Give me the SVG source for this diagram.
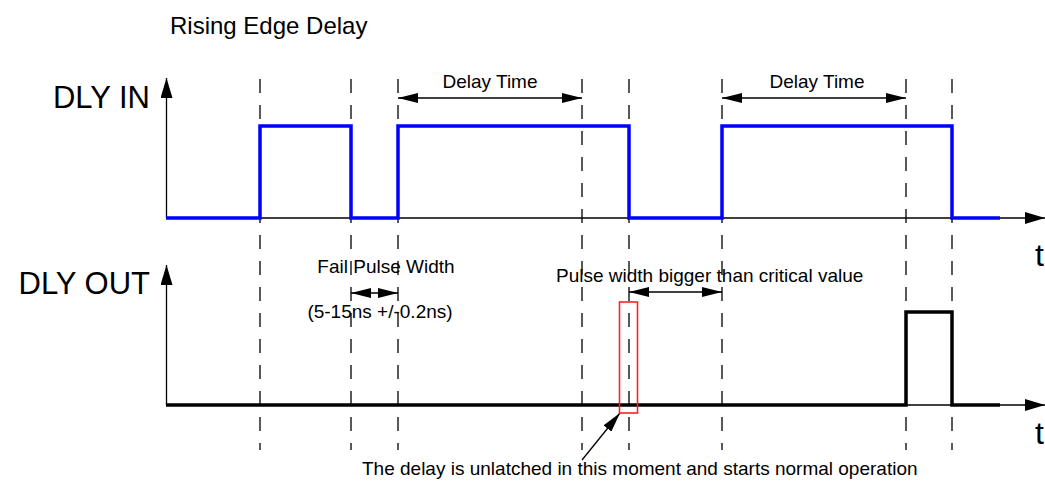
<svg xmlns="http://www.w3.org/2000/svg" width="1045" height="481" viewBox="0 0 1045 481">
<style>
text{font-family:"Liberation Sans",Arial,sans-serif;fill:#000}
.lbl{font-size:19px}
.big{font-size:31px}
.t{font-size:32px}
.dash{stroke:#000;stroke-width:1.3;stroke-dasharray:14 12;fill:none}
.thin{stroke:#000;stroke-width:1.3;fill:none}
.sigin{stroke:#0000ff;stroke-width:3.5;fill:none}
.sigout{stroke:#000;stroke-width:3.5;fill:none}
.dim{stroke:#000;stroke-width:1.3;fill:none;marker-start:url(#arr);marker-end:url(#arr)}
</style>
<defs>
<marker id="arr" markerUnits="userSpaceOnUse" markerWidth="20" markerHeight="10" refX="20" refY="5" orient="auto-start-reverse" viewBox="0 0 20 10"><path d="M0,0 L20,5 L0,10 z" fill="#000"/></marker>
<marker id="ax" markerUnits="userSpaceOnUse" markerWidth="20" markerHeight="12" refX="20" refY="6" orient="auto" viewBox="0 0 20 12"><path d="M0,0 L20,6 L0,12 z" fill="#000"/></marker>
</defs>
<rect width="1045" height="481" fill="#fff"/>
<text id="title" x="170" y="34" style="font-size:24px">Rising Edge Delay</text>
<g id="guides">
<line class="dash" x1="260" y1="79" x2="260" y2="450"/>
<line class="dash" x1="351" y1="79" x2="351" y2="450"/>
<line class="dash" x1="398" y1="79" x2="398" y2="450"/>
<line class="dash" x1="582" y1="79" x2="582" y2="450"/>
<line class="dash" x1="629" y1="79" x2="629" y2="450"/>
<line class="dash" x1="722" y1="79" x2="722" y2="450"/>
<line class="dash" x1="906" y1="79" x2="906" y2="450"/>
<line class="dash" x1="952" y1="79" x2="952" y2="450"/>
</g>
<g id="dly-in">
<text class="big" x="150" y="108" text-anchor="end">DLY IN</text>
<line class="thin" x1="166.5" y1="218" x2="166.5" y2="78" marker-end="url(#ax)"/>
<line class="thin" x1="166" y1="218" x2="1045" y2="218" marker-end="url(#ax)"/>
<text class="t" x="1035" y="266">t</text>
<path class="sigin" d="M166,218 H260 V126 H351 V218 H398 V126 H629 V218 H722 V126 H952 V218 H1000"/>
</g>
<g id="dly-out">
<text class="big" x="150" y="294" text-anchor="end">DLY OUT</text>
<line class="thin" x1="166.5" y1="405" x2="166.5" y2="265" marker-end="url(#ax)"/>
<line class="thin" x1="166" y1="405" x2="1045" y2="405" marker-end="url(#ax)"/>
<text class="t" x="1035" y="444">t</text>
<path class="sigout" d="M166,405 H906 V312 H952 V405 H1000"/>
</g>
<g id="connectors">
<line class="dim" x1="398" y1="98" x2="582" y2="98"/>
<line class="dim" x1="722" y1="98" x2="906" y2="98"/>
<line class="dim" x1="351" y1="293" x2="398" y2="293"/>
<line class="dim" x1="629" y1="292" x2="722" y2="292"/>
<line class="thin" x1="582" y1="460" x2="620" y2="413" marker-end="url(#arr)"/>
</g>
<g id="labels">
<text class="lbl" x="490" y="88" text-anchor="middle">Delay Time</text>
<text class="lbl" x="817" y="88" text-anchor="middle">Delay Time</text>
<text class="lbl" x="386" y="273" text-anchor="middle">Fail Pulse Width</text>
<text class="lbl" x="380" y="318" text-anchor="middle">(5-15ns +/-0.2ns)</text>
<text class="lbl" x="556" y="282">Pulse width bigger than critical value</text>
<text class="lbl" x="362" y="475">The delay is unlatched in this moment and starts normal operation</text>
</g>
<g id="unlatch-marker">
<rect x="619.5" y="302" width="18" height="111" fill="none" stroke="#ff2020" stroke-width="1.6"/>
</g>
</svg>
